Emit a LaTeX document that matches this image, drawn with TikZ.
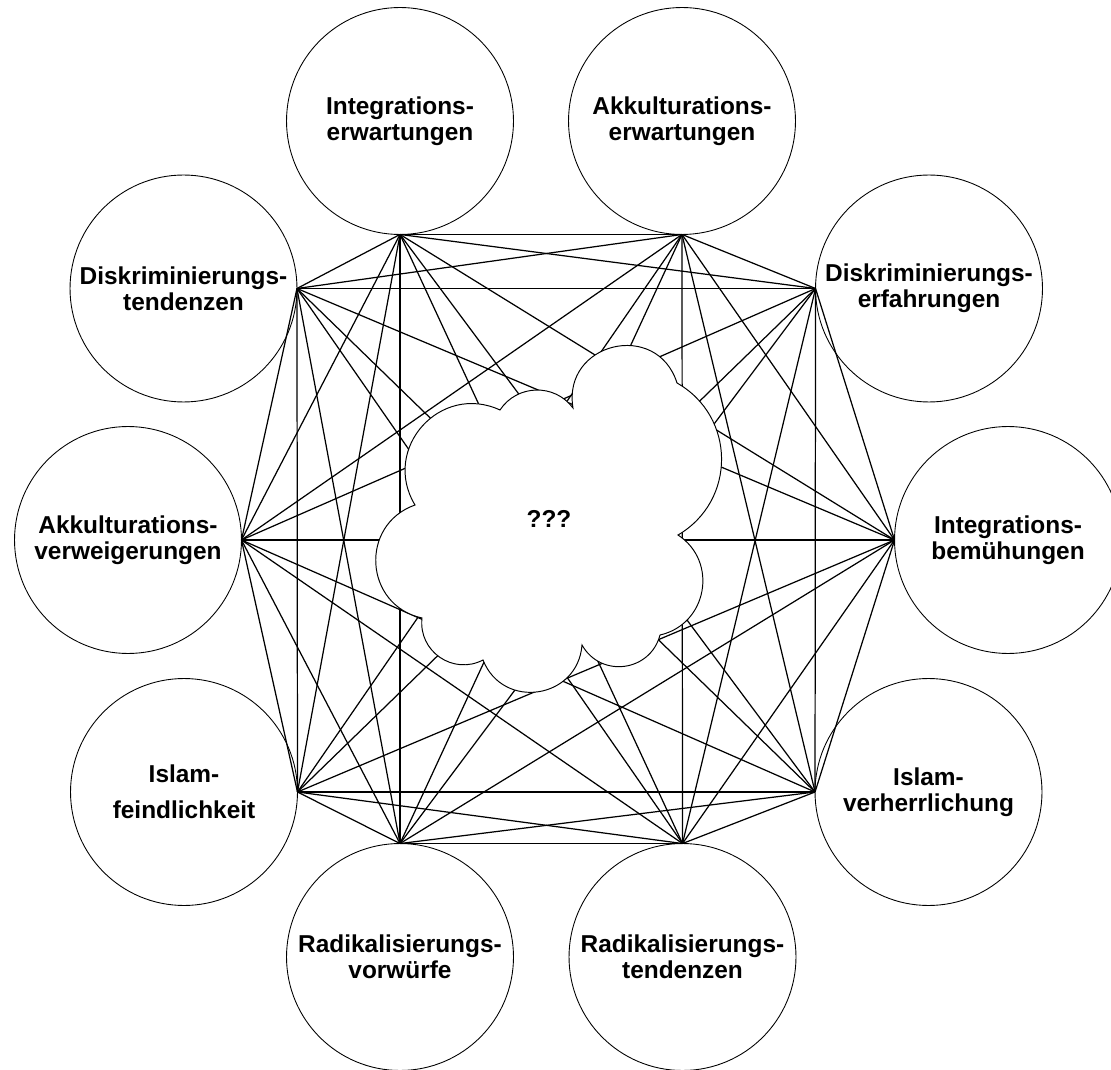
\documentclass[tikz,border=0pt]{standalone}
\usepackage{fontspec}
\setmainfont{Liberation Sans}
\usepackage{tikz}
\usetikzlibrary{positioning}

\begin{document}
\begin{tikzpicture}[
    x=0.02cm, y=0.02cm,
    topic/.style={circle, draw, line width=0.5pt, minimum size=4.54cm,
                  inner sep=0pt, outer sep=0pt, align=center,
                  font=\fontsize{13.9}{14.8}\selectfont\bfseries},
    link/.style={line width=0.7pt},
    puff/.style={draw, line width=0.55pt, fill=white},
  ]
  \useasboundingbox (0,0) rectangle (1111,-1070);

  % ── TOPICS ──
  \node[topic] (intE) at (400,-121)   {Integrations-\\erwartungen};
  \node[topic] (akkE) at (682,-121)   {Akkulturations-\\erwartungen};
  \node[topic] (diskT) at (183.5,-288.5) {Diskriminierungs-\\tendenzen};
  \node[topic] (diskE) at (929,-288.5)   {Diskriminierungs-\\erfahrungen};
  \node[topic] (akkV) at (128,-540)   {Akkulturations-\\verweigerungen};
  \node[topic] (intB) at (1008,-540)  {Integrations-\\bemühungen};
  \node[topic] (islF) at (184,-792)   {Islam-\\[0.2cm]feindlichkeit};
  \node[topic] (islV) at (928.5,-792) {Islam-\\verherrlichung};
  \node[topic] (radV) at (400,-957)   {Radikalisierungs-\\vorwürfe};
  \node[topic] (radT) at (682.5,-957) {Radikalisierungs-\\tendenzen};

  % ── LINKS (every topic with every other) ──
  \def\ends{intE.south, akkE.south, diskE.west, intB.west, islV.west,
            radT.north, radV.north, islF.east, akkV.east, diskT.east}
  \foreach \a [count=\i] in \ends {
    \foreach \b [count=\j] in \ends {
      \ifnum\j>\i \draw[link] (\a) -- (\b); \fi
    }
  }

  % ── CLOUD ──
  \draw[puff] (415,-505) to[bend left=73, looseness=1.32] (500,-410)
    to[bend left=55, looseness=1.08] (573,-408)
    to[bend left=86, looseness=1.59] (677,-383)
    to[bend left=60, looseness=1.14] (678,-535)
    to[bend left=67, looseness=1.22] (660,-635)
    to[bend left=68, looseness=1.24] (582,-645)
    to[bend left=77, looseness=1.39] (483,-660)
    to[bend left=62, looseness=1.16] (422,-618)
    to[bend left=74, looseness=1.34] (415,-505) -- cycle;
  \node[font=\fontsize{13.9}{14.8}\selectfont\bfseries] (unknown) at (549,-519) {???};
\end{tikzpicture}
\end{document}
